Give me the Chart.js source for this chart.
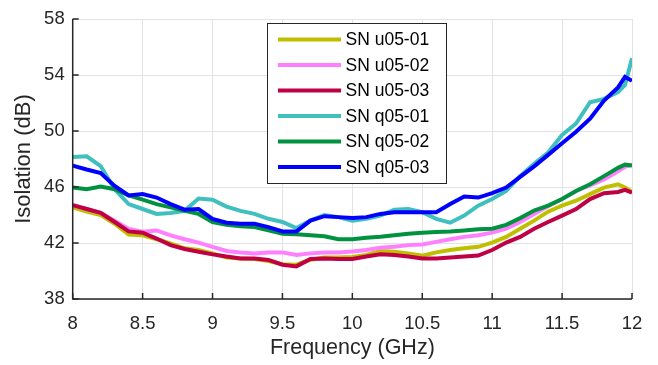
<!DOCTYPE html>
<html>
<head>
<meta charset="utf-8">
<script src="https://cdn.jsdelivr.net/npm/chart.js@4/dist/chart.umd.min.js"></script>
<style>
  html, body { margin: 0; padding: 0; background: #fff; }
  #wrap { width: 658px; height: 365px; }
</style>
</head>
<body>
<div id="wrap"><canvas id="c" width="658" height="365"></canvas></div>
<script>
// ---- data ----
const FREQ = [8.0, 8.1, 8.2, 8.3, 8.4, 8.5, 8.6, 8.7, 8.8, 8.9,
              9.0, 9.1, 9.2, 9.3, 9.4, 9.5, 9.6, 9.7, 9.8, 9.9,
              10.0, 10.1, 10.2, 10.3, 10.4, 10.5, 10.6, 10.7, 10.8, 10.9,
              11.0, 11.1, 11.2, 11.3, 11.4, 11.5, 11.6, 11.7, 11.8, 11.9, 11.95, 12.0];

const SERIES_NAMES = ["SN u05-01", "SN u05-02", "SN u05-03", "SN q05-01", "SN q05-02", "SN q05-03"];

const U05_01 = [44.55, 44.24, 44.0, 43.38, 42.6, 42.55, 42.27, 41.97, 41.62, 41.5,
                41.26, 40.96, 40.9, 40.86, 40.72, 40.49, 40.45, 40.8, 40.96, 40.96,
                41.0, 41.15, 41.43, 41.38, 41.26, 41.1, 41.33, 41.5, 41.62, 41.73,
                42.03, 42.44, 43.02, 43.6, 44.24, 44.67, 45.02, 45.49, 45.96, 46.2, 45.96, 45.65];

const U05_02 = [44.71, 44.43, 44.15, 43.6, 43.0, 42.8, 42.9, 42.55, 42.27, 42.03,
                41.73, 41.43, 41.33, 41.26, 41.33, 41.33, 41.15, 41.26, 41.33, 41.33,
                41.4, 41.5, 41.66, 41.73, 41.85, 41.9, 42.08, 42.27, 42.44, 42.55,
                42.74, 43.02, 43.5, 44.08, 44.62, 45.14, 45.72, 46.12, 46.55, 47.13, 47.45, 47.6];

const U05_03 = [44.71, 44.43, 44.15, 43.5, 42.83, 42.74, 42.32, 41.85, 41.57, 41.38,
                41.19, 41.03, 40.9, 40.9, 40.79, 40.45, 40.33, 40.86, 40.9, 40.86,
                40.86, 41.03, 41.19, 41.15, 41.03, 40.9, 40.9, 40.96, 41.03, 41.1,
                41.5, 42.03, 42.44, 43.02, 43.5, 43.96, 44.43, 45.14, 45.56, 45.65, 45.8, 45.6];

const Q05_01 = [48.14, 48.2, 47.5, 45.84, 44.78, 44.43, 44.08, 44.15, 44.3, 45.18,
                45.1, 44.6, 44.3, 44.08, 43.73, 43.5, 43.07, 43.6, 44.0, 43.85,
                43.6, 43.73, 43.96, 44.38, 44.43, 44.2, 43.73, 43.45, 43.96, 44.67,
                45.14, 45.72, 46.78, 47.67, 48.47, 49.72, 50.54, 52.06, 52.3, 52.78, 53.3, 55.2];

const Q05_02 = [45.96, 45.84, 46.03, 45.84, 45.4, 45.1, 44.78, 44.55, 44.3, 44.08,
                43.5, 43.3, 43.2, 43.14, 42.9, 42.67, 42.63, 42.55, 42.48, 42.27,
                42.27, 42.37, 42.44, 42.55, 42.67, 42.74, 42.79, 42.83, 42.9, 42.98,
                43.02, 43.3, 43.78, 44.32, 44.67, 45.14, 45.72, 46.2, 46.78, 47.37, 47.6, 47.53];

const Q05_03 = [47.53, 47.25, 47.0, 46.08, 45.4, 45.5, 45.25, 44.78, 44.38, 44.43,
                43.73, 43.45, 43.38, 43.38, 43.14, 42.83, 42.83, 43.6, 43.92, 43.85,
                43.78, 43.85, 44.08, 44.2, 44.2, 44.2, 44.2, 44.78, 45.32, 45.25,
                45.56, 45.96, 46.73, 47.48, 48.3, 49.13, 49.95, 50.89, 52.18, 53.12, 53.87, 53.6];

const X_TICKS = [8, 8.5, 9, 9.5, 10, 10.5, 11, 11.5, 12];
const Y_TICKS = [38, 42, 46, 50, 54, 58];

// ---- styling ----
const COLORS = ["#BFBF00", "#FF80FF", "#BF0045", "#40BFBF", "#00923F", "#0000FF"];
const ALL = [U05_01, U05_02, U05_03, Q05_01, Q05_02, Q05_03];
const FONT = "'Liberation Sans', Arial, Helvetica, sans-serif";
const AXIS_COLOR = "#262626";

const datasets = ALL.map((vals, i) => ({
  label: SERIES_NAMES[i],
  data: FREQ.map((f, k) => ({ x: f, y: vals[k] })),
  borderColor: COLORS[i],
  backgroundColor: COLORS[i],
  borderWidth: 4,
  pointRadius: 0,
  tension: 0,
  fill: false,
  order: ALL.length - 1 - i
}));

const inwardTicks = {
  id: 'inwardTicks',
  afterDatasetsDraw(chart) {
    const ctx = chart.ctx, xs = chart.scales.x, ys = chart.scales.y;
    const a = chart.chartArea;
    ctx.save();
    ctx.strokeStyle = AXIS_COLOR;
    ctx.lineWidth = 1.5;
    ctx.beginPath();
    X_TICKS.forEach(v => { const px = xs.getPixelForValue(v); ctx.moveTo(px, a.bottom); ctx.lineTo(px, a.bottom - 6); });
    Y_TICKS.forEach(v => { const py = ys.getPixelForValue(v); ctx.moveTo(a.left, py); ctx.lineTo(a.left + 6, py); });
    ctx.stroke();
    ctx.beginPath();
    ctx.moveTo(a.left, a.top); ctx.lineTo(a.left, a.bottom); ctx.lineTo(a.right, a.bottom);
    ctx.stroke();
    ctx.restore();
  }
};

const boxLegend = {
  id: 'boxLegend',
  afterDraw(chart) {
    const ctx = chart.ctx;
    const x0 = 267, y0 = 23, w = 179, h = 160;
    ctx.save();
    ctx.fillStyle = '#fff';
    ctx.fillRect(x0, y0, w, h);
    ctx.strokeStyle = AXIS_COLOR;
    ctx.lineWidth = 1;
    ctx.strokeRect(x0 + 0.5, y0 + 0.5, w, h);
    ctx.font = "17.5px " + FONT;
    ctx.textBaseline = 'middle';
    ctx.textAlign = 'left';
    chart.data.datasets.forEach((ds, i) => {
      const y = 39.5 + i * 25.5;
      ctx.strokeStyle = ds.borderColor;
      ctx.lineWidth = 4;
      ctx.beginPath();
      ctx.moveTo(278, y); ctx.lineTo(341, y);
      ctx.stroke();
      ctx.fillStyle = '#000';
      ctx.fillText(ds.label, 345.5, y + 1);
    });
    ctx.restore();
  }
};

new Chart(document.getElementById('c'), {
  type: 'line',
  data: { datasets },
  options: {
    responsive: false,
    animation: false,
    events: [],
    layout: { padding: { top: 13.5, right: 26, left: 0, bottom: 0 } },
    plugins: { legend: { display: false }, tooltip: { enabled: false } },
    scales: {
      x: {
        type: 'linear', min: 8, max: 12,
        afterBuildTicks(s) { s.ticks = X_TICKS.map(v => ({ value: v })); },
        afterFit(s) { s.height = 66; },
        grid: { color: '#E3E3E3', lineWidth: 1, drawTicks: false },
        border: { display: false },
        ticks: { color: AXIS_COLOR, font: { family: FONT, size: 18.5 }, padding: 14, maxRotation: 0,
                 callback: v => String(v) },
        title: { display: true, text: 'Frequency (GHz)', color: AXIS_COLOR,
                 font: { family: FONT, size: 21.5 }, padding: { top: 0, bottom: 4 } }
      },
      y: {
        type: 'linear', min: 38, max: 58,
        afterBuildTicks(s) { s.ticks = Y_TICKS.map(v => ({ value: v })); },
        afterFit(s) { s.width = 72.7; },
        grid: { color: '#E3E3E3', lineWidth: 1, drawTicks: false },
        border: { display: false },
        ticks: { color: AXIS_COLOR, font: { family: FONT, size: 18.5 }, padding: 8,
                 callback: v => String(v) },
        title: { display: true, text: 'Isolation (dB)', color: AXIS_COLOR,
                 font: { family: FONT, size: 22 }, padding: 11 }
      }
    }
  },
  plugins: [inwardTicks, boxLegend]
});
</script>
</body>
</html>
